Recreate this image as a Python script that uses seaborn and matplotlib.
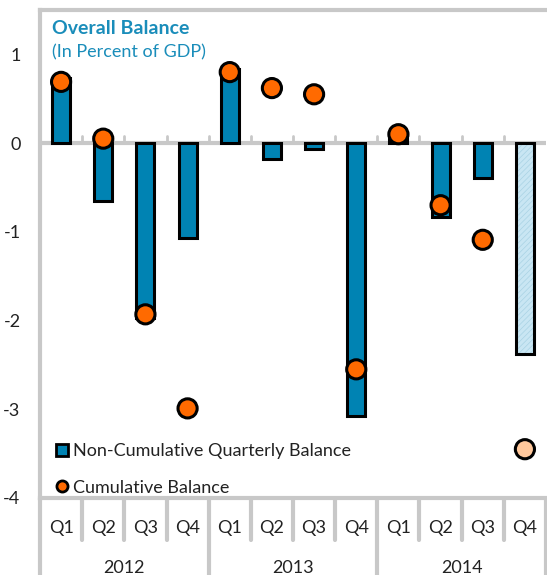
import matplotlib
matplotlib.use("Agg")
import matplotlib.pyplot as plt
import matplotlib.transforms as mtransforms
from matplotlib.lines import Line2D
from matplotlib.patches import Rectangle
import seaborn as sns
import pandas as pd
import numpy as np

quarters = ["Q1", "Q2", "Q3", "Q4"] * 3
years = ["2012", "2013", "2014"]
bar_values = [0.73, -0.65, -1.97, -1.07, 0.83, -0.18, -0.07, -3.08, 0.10, -0.83, -0.39, -2.38]
cum_values = [0.69, 0.05, -1.93, -2.99, 0.80, 0.62, 0.55, -2.55, 0.10, -0.70, -1.09, -3.45]
projected = [False] * 11 + [True]

BLUE = "#0083B3"
LIGHT = "#C9E6F3"
ORANGE = "#FF6A00"
PEACH = "#FFC89C"
GRAY = "#C8C8C8"
TITLE = "#1A8DBA"

sns.set_theme(style="white")
plt.rcParams["font.family"] = ["Lato", "DejaVu Sans"]
plt.rcParams["hatch.linewidth"] = 0.5

labels = [f"{q}-{y}" for y in years for q in ["Q1", "Q2", "Q3", "Q4"]]
df = pd.DataFrame({"label": labels, "bar": bar_values, "cum": cum_values,
                   "proj": projected})
df["pos"] = np.arange(len(df))

fig = plt.figure(figsize=(5.47, 5.75), dpi=100)
ax = fig.add_axes([40 / 547, 77 / 575, 506 / 547, 488 / 575])

palette = {lab: (LIGHT if p else BLUE) for lab, p in zip(labels, projected)}
sns.barplot(data=df, x="label", y="bar", hue="label", palette=palette,
            order=labels, legend=False, width=0.43, edgecolor="black",
            linewidth=2.2, saturation=1, ax=ax, zorder=2)
for patch, p in zip(list(ax.patches), projected):
    if p:
        x0, y0 = patch.get_x(), patch.get_y()
        w, h = patch.get_width(), patch.get_height()
        patch.set_edgecolor("#A9D2E4")
        patch.set_hatch("//////")
        patch.set_linewidth(0)
        ax.add_patch(Rectangle((x0, y0), w, h, facecolor="none",
                               edgecolor="black", linewidth=2.2, zorder=3))

dot_colors = [PEACH if p else ORANGE for p in projected]
ax.scatter(df["pos"], df["cum"], s=190, c=dot_colors, edgecolors="black",
           linewidths=2.2, zorder=4)

ax.set_xlim(-0.5, 11.5)
ax.set_ylim(-4, 1.5)
ax.set_yticks([1, 0, -1, -2, -3, -4])
ax.set_yticklabels(["1", "0", "-1", "-2", "-3", "-4"], fontsize=13)
ax.tick_params(axis="y", direction="in", length=4, width=2, color=GRAY, pad=14)
for t in ax.get_yticklabels():
    t.set_color("#222222")
ax.set_xticks([])
ax.set_xlabel("")
ax.set_ylabel("")

for s in ["left", "top", "bottom"]:
    ax.spines[s].set_color(GRAY)
    ax.spines[s].set_linewidth(3)
ax.spines["right"].set_visible(False)

# zero line and ticks
ax.axhline(0, color=GRAY, lw=3, zorder=1)
for k in range(1, 12):
    ax.plot([k - 0.5, k - 0.5], [0, 0.08], color=GRAY, lw=2, zorder=1)

# category axis below
trans = mtransforms.blended_transform_factory(ax.transData, fig.transFigure)
for k in range(13):
    x = k - 0.5
    y0 = 0.0 if k % 4 == 0 else 35 / 575
    ax.add_line(Line2D([x, x], [77 / 575, y0], transform=trans, color=GRAY,
                       lw=3, clip_on=False))
for i, q in enumerate(quarters):
    ax.text(i, 47 / 575, q, transform=trans, ha="center", va="center",
            fontsize=13, color="#222222")
for j, y in enumerate(years):
    ax.text(4 * j + 1.5, 7 / 575, y, transform=trans, ha="center",
            va="center", fontsize=13, color="#222222")

# titles
ax.text(12 / 506, 1 - 18 / 488, "Overall Balance", transform=ax.transAxes,
        fontsize=14, fontweight="bold", color=TITLE, va="center", ha="left")
ax.text(12 / 506, 1 - 42 / 488, "(In Percent of GDP)", transform=ax.transAxes,
        fontsize=13, color=TITLE, va="center", ha="left")

handles = [
    Line2D([], [], marker="s", linestyle="none", markersize=8,
           markerfacecolor=BLUE, markeredgecolor="black", markeredgewidth=2),
    Line2D([], [], marker="o", linestyle="none", markersize=8,
           markerfacecolor=ORANGE, markeredgecolor="black", markeredgewidth=2),
]
leg = ax.legend(handles, ["Non-Cumulative Quarterly Balance", "Cumulative Balance"],
                loc="lower left", bbox_to_anchor=(0.005, -0.025), frameon=False,
                fontsize=13, handlelength=0.6, handletextpad=0.3,
                labelspacing=1.15, borderpad=0.3)
for t in leg.get_texts():
    t.set_color("#222222")

fig.savefig("out.png", dpi=100)
